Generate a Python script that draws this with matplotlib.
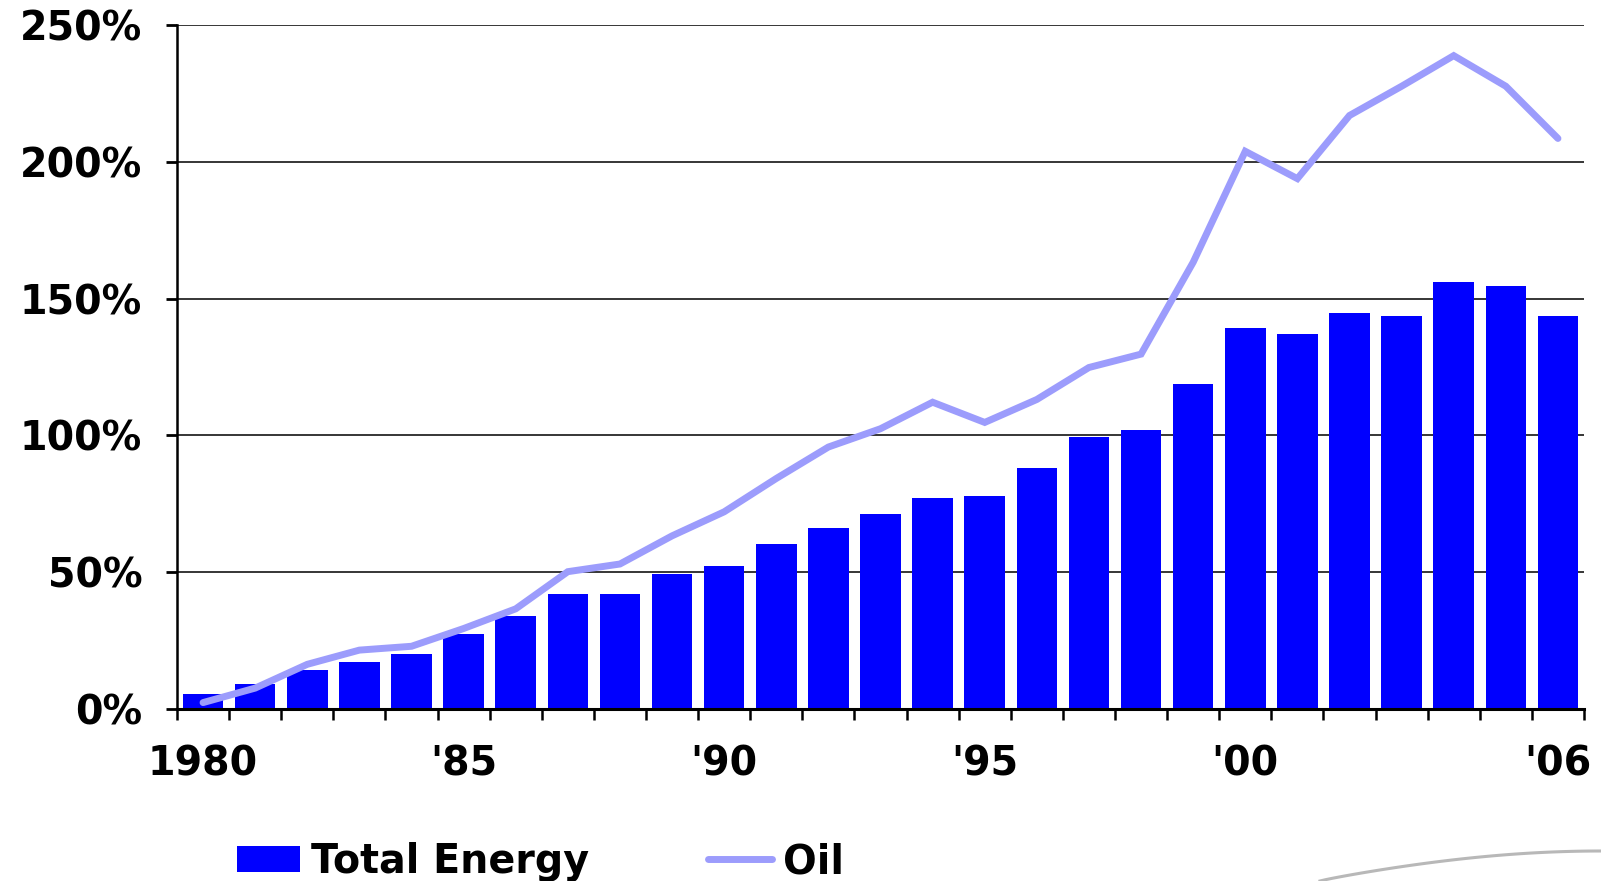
import matplotlib
matplotlib.use("Agg")
import matplotlib.pyplot as plt
from matplotlib.patches import Patch
from matplotlib.lines import Line2D
import numpy as np

years = list(range(1980, 2007))
total_energy = [5.3, 8.9, 14.1, 17.0, 20.0, 27.3, 33.9, 42.0, 42.0, 49.3,
                52.3, 60.3, 66.2, 71.3, 77.1, 77.7, 87.9, 99.4, 101.9, 118.7,
                139.1, 136.9, 144.9, 143.5, 155.9, 154.5, 143.5]
oil = [2.2, 7.5, 16.2, 21.4, 22.8, 29.3, 36.5, 50.1, 52.9, 63.2,
       72.0, 84.2, 95.7, 102.4, 112.1, 104.7, 113.1, 124.8, 129.7, 163.3,
       203.9, 193.9, 217.0, 227.7, 238.9, 227.7, 208.6]
xtick_years = [1980, 1985, 1990, 1995, 2000, 2006]
xtick_labels = ["1980", "'85", "'90", "'95", "'00", "'06"]
ytick_values = [0, 50, 100, 150, 200, 250]
ytick_labels = ["0%", "50%", "100%", "150%", "200%", "250%"]

BAR_COLOR = "#0000FF"
LINE_COLOR = "#9C9CFC"
FS = 28.5

plt.rcParams['font.family'] = ['DejaVu Sans']
fig = plt.figure(figsize=(16.01, 8.81), dpi=100)
W, H = 1601, 881
ax_left, ax_right = 177, 1584
ax_top, ax_bottom = 25.3, 708.6
ax = fig.add_axes([ax_left / W, 1 - ax_bottom / H, (ax_right - ax_left) / W, (ax_bottom - ax_top) / H])

x = np.arange(len(years))
ax.bar(x, total_energy, width=0.78, color=BAR_COLOR, zorder=2)
ax.plot(x, oil, color=LINE_COLOR, lw=5, zorder=3, solid_capstyle='round', solid_joinstyle='miter')

ax.set_xlim(-0.5, len(years) - 0.5)
ax.set_ylim(0, 250)

ax.set_yticks(ytick_values)
ax.set_yticklabels(ytick_labels, fontsize=FS, fontweight='bold')
ax.tick_params(axis='y', direction='out', length=8, width=2, pad=17, color='black')
ax.yaxis.grid(True, color='black', lw=1.1, zorder=1)
ax.set_axisbelow(True)

pos = [years.index(y) for y in xtick_years]
ax.set_xticks(pos)
ax.set_xticklabels(xtick_labels, fontsize=FS, fontweight='bold')
ax.set_xticks(np.arange(-0.5, len(years)), minor=True)
ax.tick_params(axis='x', which='major', length=0, pad=26)
ax.tick_params(axis='x', which='minor', direction='out', length=8, width=1.8, color='black')

for s in ['top', 'right']:
    ax.spines[s].set_visible(False)
ax.spines['left'].set_linewidth(1.8)
ax.spines['bottom'].set_linewidth(2.2)
ax.spines['bottom'].set_zorder(4)

handles = [Patch(facecolor=BAR_COLOR, edgecolor='none', label='Total Energy'),
           Line2D([], [], color=LINE_COLOR, lw=5, solid_capstyle='round', label='Oil')]
fig.legend(handles=handles, loc='center left', bbox_to_anchor=(237 / W, 1 - 862 / H),
           ncol=2, frameon=False, borderpad=0, borderaxespad=0,
           handlelength=1.6, handleheight=0.66, handletextpad=0.28, columnspacing=3.0,
           prop={'size': FS, 'weight': 'bold'})

# faint decorative swoosh at bottom right of the original slide
t = np.linspace(0, 1, 50)
sx = 1320 + (1601 - 1320) * t
sy = 881 - 30 * np.sin(t * np.pi / 2) ** 0.9
fig.add_artist(Line2D(sx / W, 1 - sy / H, transform=fig.transFigure, color='#b8b8b8', lw=2.2))

fig.savefig("out.png", dpi=100, facecolor='white')
